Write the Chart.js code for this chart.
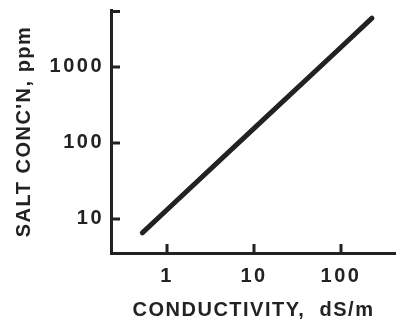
<!DOCTYPE html>
<html>
<head>
<meta charset="utf-8">
<script src="https://cdn.jsdelivr.net/npm/chart.js@4"></script>
<style>
  html, body { margin: 0; padding: 0; background: #fff; }
  #wrap { width: 396px; height: 323px; }
</style>
</head>
<body>
<div id="wrap"><canvas id="chart" width="396" height="323"></canvas></div>
<script>
// values
const conductivity = [0.52, 1, 10, 100, 227];     // dS/m
const saltPpm = [6.5, 13.1, 154, 1800, 4350];     // ppm
const xTickValues = [1, 10, 100];
const yTickValues = [10, 100, 1000];
const xRange = [0.227, 429];
const yRange = [3.53, 5570];

const ink = '#222';
const fontFamily = '"Liberation Sans", Arial, sans-serif';

// spaced-out lettering like the original; tick numbers are spaced wider than titles
const spacing = {
    id: 'spacing',
    beforeDraw(chart) {
        chart.ctx.letterSpacing = '1.5px';
        Object.values(chart.scales).forEach(s => {
            if (s._spaced) return;
            const orig = s.drawLabels;
            s.drawLabels = function (area) {
                this.ctx.letterSpacing = '2.5px';
                orig.call(this, area);
                this.ctx.letterSpacing = '1.5px';
            };
            s._spaced = true;
        });
    }
};

// ticks in this figure point inward, plus a small cap at the top of the y axis
const inwardTicks = {
    id: 'inwardTicks',
    afterDraw(chart) {
        const ctx = chart.ctx;
        const xs = chart.scales.x, ys = chart.scales.y;
        const area = chart.chartArea;
        const len = 9;
        ctx.save();
        ctx.strokeStyle = ink;
        ctx.lineWidth = 3;
        ctx.lineCap = 'butt';
        ctx.beginPath();
        xTickValues.forEach(v => {
            const px = xs.getPixelForValue(v);
            ctx.moveTo(px, area.bottom);
            ctx.lineTo(px, area.bottom - len);
        });
        yTickValues.concat([yRange[1]]).forEach(v => {
            const py = Math.round(ys.getPixelForValue(v)) + (v === yRange[1] ? 1.5 : 0);
            ctx.moveTo(area.left, py);
            ctx.lineTo(area.left + len, py);
        });
        ctx.stroke();
        ctx.restore();
    }
};

const ctx = document.getElementById('chart');
new Chart(ctx, {
    type: 'line',
    data: {
        datasets: [{
            data: conductivity.map((c, i) => ({ x: c, y: saltPpm[i] })),
            borderColor: ink,
            borderWidth: 5,
            borderCapStyle: 'round',
            pointRadius: 0,
            tension: 0,
            fill: false
        }]
    },
    options: {
        responsive: false,
        animation: false,
        layout: { padding: { top: 10, right: 0, left: 0, bottom: 0 } },
        plugins: {
            legend: { display: false },
            tooltip: { enabled: false }
        },
        scales: {
            x: {
                type: 'logarithmic',
                min: xRange[0],
                max: xRange[1],
                afterBuildTicks: s => { s.ticks = xTickValues.map(v => ({ value: v })); },
                afterFit: s => { s.height = 70; s.paddingLeft = 0; s.paddingRight = 0; },
                grid: { display: true, drawOnChartArea: false, drawTicks: false },
                border: { display: true, color: ink, width: 3 },
                ticks: {
                    color: ink,
                    padding: 11,
                    maxRotation: 0,
                    autoSkip: false,
                    font: { family: fontFamily, size: 20, weight: 'bold' },
                    callback: v => String(v)
                },
                title: {
                    display: true,
                    text: 'CONDUCTIVITY,  dS/m',
                    color: ink,
                    padding: 1,
                    font: { family: fontFamily, size: 20, weight: 'bold' }
                }
            },
            y: {
                type: 'logarithmic',
                min: yRange[0],
                max: yRange[1],
                afterBuildTicks: s => { s.ticks = yTickValues.map(v => ({ value: v })); },
                afterFit: s => { s.width = 111; s.paddingTop = 0; s.paddingBottom = 0; },
                grid: { display: true, drawOnChartArea: false, drawTicks: false },
                border: { display: true, color: ink, width: 3 },
                ticks: {
                    color: ink,
                    padding: 7,
                    autoSkip: false,
                    font: { family: fontFamily, size: 20, weight: 'bold' },
                    callback: v => String(v)
                },
                title: {
                    display: true,
                    text: "SALT CONC'N, ppm",
                    color: ink,
                    padding: 12,
                    font: { family: fontFamily, size: 20, weight: 'bold' }
                }
            }
        }
    },
    plugins: [spacing, inwardTicks]
});
</script>
</body>
</html>
